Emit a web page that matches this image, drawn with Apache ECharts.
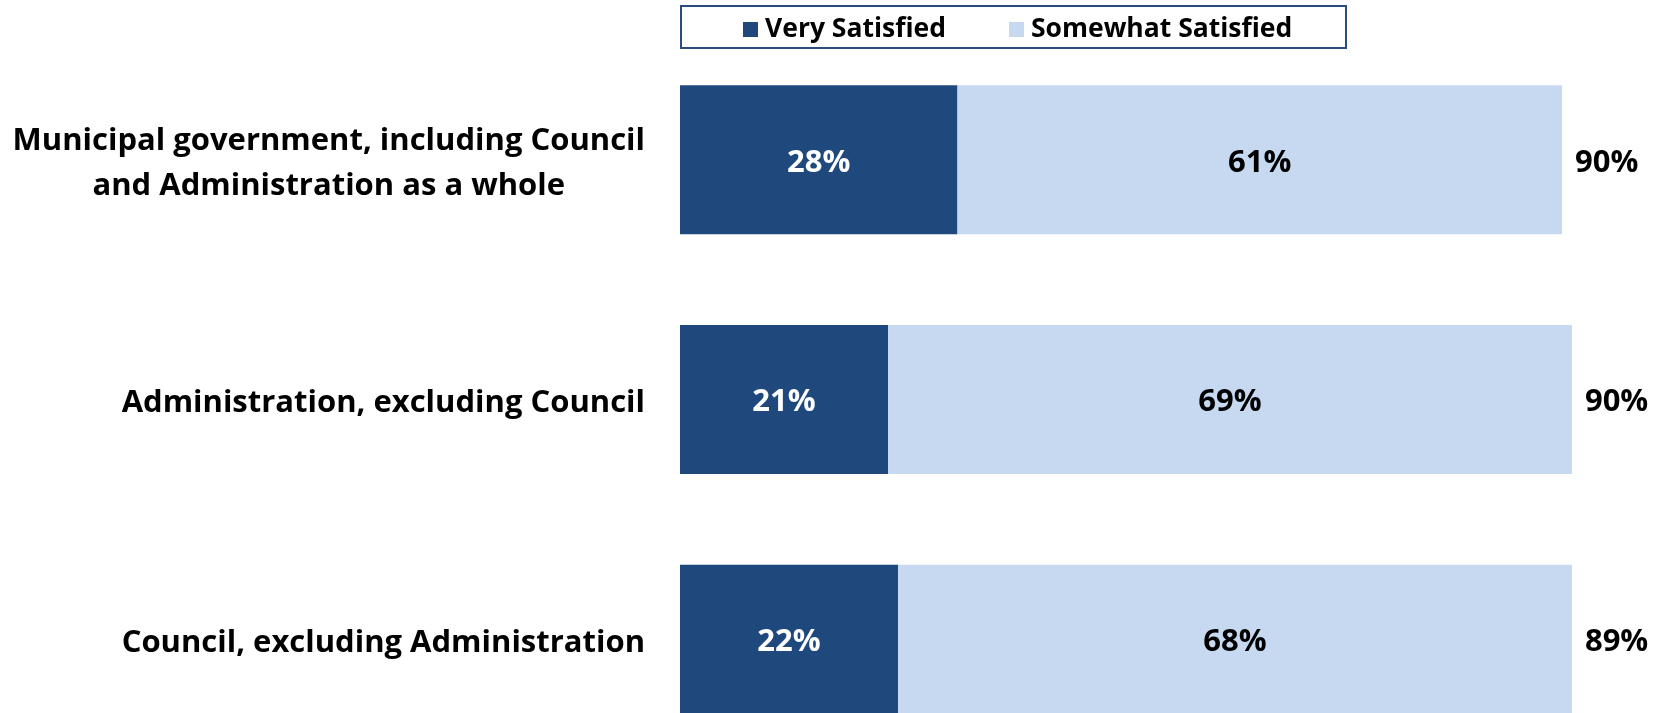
<!DOCTYPE html>
<html lang="en">
	<head>
		<meta charset="utf-8" />
		<title>Satisfaction</title>
		<style>
			html, body { margin: 0; padding: 0; background: #fff; }
			#chart { width: 1671px; height: 713px; }
		</style>
	</head>
	<body>
		<div id="chart"></div>
		<script src="https://cdn.jsdelivr.net/npm/echarts@6/dist/echarts.min.js"></script>
		<script>
			// categories, top to bottom
			const categories = [
				'Municipal government, including Council\nand Administration as a whole',
				'Administration, excluding Council',
				'Council, excluding Administration'
			];
			const verySatisfied = [28, 21, 22];
			const somewhatSatisfied = [61, 69, 68];
			// totals as printed (rounded separately)
			const totals = [90, 90, 89];
			const seriesNames = ['Very Satisfied', 'Somewhat Satisfied'];

			const FONT = "'Open Sans', 'Noto Sans', sans-serif";
			const chart = echarts.init(document.getElementById('chart'));

			//bar value labels, shared style
			const valueLabel = function(color) {
				return {
					show: true,
					position: 'inside',
					offset: [0, 3],
					formatter: '{c}%',
					color: color,
					fontFamily: FONT,
					fontWeight: 'bold',
					fontSize: 31
				};
			};

			const option = {
				animation: false,
				backgroundColor: '#fff',
				textStyle: { fontFamily: FONT },
				graphic: [{
					// legend frame
					type: 'rect',
					shape: { x: 681, y: 6, width: 665, height: 42 },
					style: { fill: 'none', stroke: '#2b4c7e', lineWidth: 2 }
				}],
				legend: {
					data: seriesNames,
					left: 743,
					top: 16,
					padding: 0,
					itemGap: 63,
					itemWidth: 15,
					itemHeight: 15,
					icon: 'rect',
					selectedMode: false,
					textStyle: { fontFamily: FONT, fontWeight: 'bold', fontSize: 26.5, color: '#000', padding: [0, 0, 0, 2] }
				},
				// the last bar runs off the bottom edge, as in the original slide
				grid: { left: 680, top: 40, width: 991, height: 719, outerBoundsMode: 'none', containLabel: false },
				xAxis: {
					type: 'value',
					min: 0,
					max: 100,
					show: false
				},
				yAxis: {
					type: 'category',
					data: categories,
					inverse: true,
					axisLine: { show: false },
					axisTick: { show: false },
					axisLabel: {
						margin: 35,
						padding: [8, 0, 0, 0],
						formatter: function(value) {
							return value.split('\n').map(function(s) { return '{c|' + s + '}'; }).join('\n');
						},
						rich: {
							c: { align: 'center', fontFamily: FONT, fontWeight: 'bold', fontSize: 31, color: '#000', lineHeight: 45 }
						}
					}
				},
				series: [{
					name: seriesNames[0],
					type: 'bar',
					stack: 'total',
					barWidth: 149,
					itemStyle: { color: '#1f497d' },
					label: valueLabel('#fff'),
					data: verySatisfied
				}, {
					name: seriesNames[1],
					type: 'bar',
					stack: 'total',
					barWidth: 149,
					itemStyle: { color: '#c6d9f0' },
					label: valueLabel('#000'),
					data: somewhatSatisfied
				}, {
					// zero-width helper to place the total at the end of each bar
					name: 'Total',
					type: 'bar',
					stack: 'total',
					barWidth: 149,
					itemStyle: { color: 'transparent' },
					label: {
						show: true,
						position: 'right',
						distance: 13,
						offset: [0, 3],
						formatter: function(p) { return totals[p.dataIndex] + '%'; },
						color: '#000',
						fontFamily: FONT,
						fontWeight: 'bold',
						fontSize: 31
					},
					data: totals.map(function() { return 0; })
				}]
			};
			chart.setOption(option);

			window.onresize = function() {
				chart.resize();
			};
		</script>
	</body>
</html>
